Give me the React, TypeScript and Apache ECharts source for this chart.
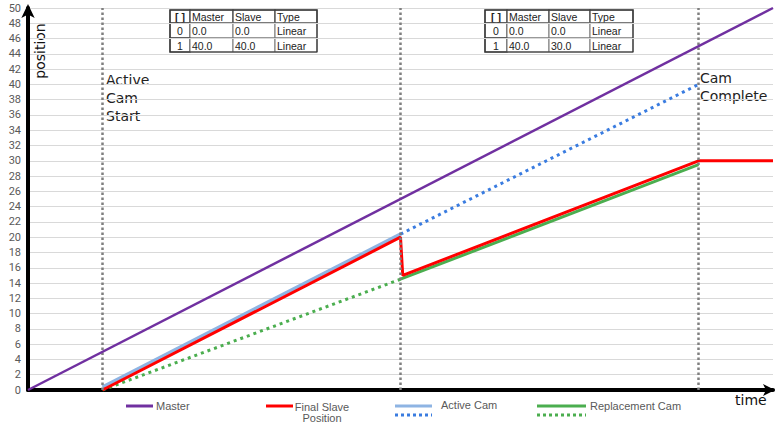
import React, { useEffect, useRef } from "react";
import * as echarts from "echarts";

const yTicks = [0, 2, 4, 6, 8, 10, 12, 14, 16, 18, 20, 22, 24, 26, 28, 30, 32, 34, 36, 38, 40, 42, 44, 46, 48, 50];
const masterData = [[0, 0], [50, 50]];
const activeSolid = [[5, 0.4], [25, 20.4]];
const activeDotted = [[25, 20.4], [45, 40]];
const replDotted = [[5, 0], [25, 14.5]];
const replSolid = [[25, 14.5], [45, 29.5]];
const finalSlave = [[5, 0], [25, 20], [25.15, 15], [45, 30], [50, 30]];
const phaseMarks = [5, 25, 45];

const tableHeader = ["[ ]", "Master", "Slave", "Type"];
const table1Rows = [["0", "0.0", "0.0", "Linear"], ["1", "40.0", "40.0", "Linear"]];
const table2Rows = [["0", "0.0", "0.0", "Linear"], ["1", "40.0", "30.0", "Linear"]];

const C_MASTER = "#7030a0";
const C_RED = "#ff0000";
const C_BLUE_L = "#8eb4e3";
const C_BLUE_D = "#3a7ce0";
const C_GREEN = "#4bae4f";

function makeTable(x0: number, y0: number, colW: number[], rowH: number[], rows: string[][]) {
  const children: any[] = [];
  const all = [tableHeader, ...rows];
  let y = y0;
  all.forEach((row, ri) => {
    let x = x0;
    row.forEach((cell, ci) => {
      const w = colW[ci];
      const h = rowH[ri];
      const special = ri === 0 || ci === 0;
      children.push({
        type: "rect",
        shape: { x, y, width: w, height: h },
        style: { fill: "#ffffff", stroke: special ? "#555" : "#777", lineWidth: special ? 1.4 : 1 },
      });
      const centered = ci === 0;
      children.push({
        type: "text",
        style: {
          text: cell,
          x: centered ? x + w / 2 : x + 2,
          y: y + h / 2 + 0.5,
          align: centered ? "center" : "left",
          verticalAlign: "middle",
          fontFamily: "Liberation Sans, Arial",
          fontSize: 10.5,
          fill: "#222",
          fontWeight: ri === 0 && ci === 0 ? "bold" : "normal",
        },
      });
      x += w;
    });
    y += rowH[ri];
  });
  const totalW = colW.reduce((a, b) => a + b, 0);
  const totalH = rowH.reduce((a, b) => a + b, 0);
  children.push({
    type: "rect",
    shape: { x: x0, y: y0, width: totalW, height: totalH },
    style: { fill: "none", stroke: "#333", lineWidth: 1.2 },
  });
  return { type: "group", children };
}

function legendLine(x1: number, x2: number, y: number, color: string, dotted?: boolean) {
  return {
    type: "line",
    shape: { x1, y1: y, x2, y2: y },
    style: { stroke: color, lineWidth: 3, lineDash: dotted ? [3, 3] : undefined },
  };
}

function legendText(text: string, x: number, y: number, align = "left") {
  return {
    type: "text",
    style: {
      text,
      x,
      y,
      align,
      verticalAlign: "middle",
      fontFamily: "Liberation Sans, Arial",
      fontSize: 11,
      fill: "#595959",
    },
  };
}

export default function App() {
  const ref = useRef<HTMLDivElement>(null);
  useEffect(() => {
    document.body.style.margin = "0";
    const chart = echarts.init(ref.current!, undefined, { renderer: "svg" });
    const lineSeries = (name: string, data: number[][], color: string, width: number, type: any = "solid", z = 2) => ({
      name,
      type: "line",
      data,
      symbol: "none",
      z,
      lineStyle: { color, width, type },
      silent: true,
    });
    const bigText = (text: string, x: number, y: number) => ({
      type: "text",
      style: {
        text,
        x,
        y,
        verticalAlign: "middle",
        fontFamily: "DejaVu Sans",
        fontSize: 14,
        lineHeight: 18,
        fill: "#222",
      },
    });
    chart.setOption({
      animation: false,
      backgroundColor: "#ffffff",
      grid: { left: 28, right: 3, top: 8, bottom: 33 },
      xAxis: {
        type: "value",
        min: 0,
        max: 50,
        axisLabel: { show: false },
        axisTick: { show: false },
        splitLine: { show: false },
        axisLine: { lineStyle: { color: "#000", width: 4 }, symbol: ["none", "arrow"], symbolSize: [9, 12], symbolOffset: [0, 2] },
      },
      yAxis: {
        type: "value",
        min: 0,
        max: 50,
        interval: 2,
        axisLabel: { color: "#595959", fontSize: 11, fontFamily: "Roboto", margin: 7 },
        axisTick: { show: false },
        splitLine: { lineStyle: { color: "#d9d9d9", width: 1 } },
        axisLine: { show: true, lineStyle: { color: "#000", width: 4 }, symbol: ["none", "arrow"], symbolSize: [10, 14], symbolOffset: [0, 4] },
      },
      series: [
        {
          ...lineSeries("Phases", [], "#808080", 2),
          markLine: {
            silent: true,
            symbol: "none",
            label: { show: false },
            lineStyle: { color: "#7f7f7f", type: [2.5, 2.5], width: 2.5 },
            data: phaseMarks.map((v) => ({ xAxis: v })),
          },
        },
        lineSeries("Active Cam", activeSolid, C_BLUE_L, 3.5, "solid", 3),
        lineSeries("Active Cam dotted", activeDotted, C_BLUE_D, 3, [3, 4], 3),
        lineSeries("Replacement Cam dotted", replDotted, C_GREEN, 3, [3, 4], 3),
        lineSeries("Replacement Cam", replSolid, C_GREEN, 3, "solid", 3),
        lineSeries("Final Slave Position", finalSlave, C_RED, 3, "solid", 4),
        lineSeries("Master", masterData, C_MASTER, 2.5, "solid", 5),
      ],
      graphic: [
        makeTable(170, 10, [20, 43, 42, 42], [13, 15, 14], table1Rows),
        makeTable(485, 10, [22, 42, 41, 43], [13, 15, 14], table2Rows),
        bigText("Active\nCam\nStart", 106, 98),
        bigText("Cam\nComplete", 700, 87),
        {
          type: "text",
          x: 40,
          y: 51,
          rotation: Math.PI / 2,
          style: { text: "position", align: "center", verticalAlign: "middle", fontFamily: "DejaVu Sans", fontSize: 14, fill: "#111" },
        },
        {
          type: "text",
          style: { text: "time", x: 735, y: 400, verticalAlign: "middle", fontFamily: "DejaVu Sans", fontSize: 14, fill: "#111" },
        },
        legendLine(126, 153, 406, C_MASTER),
        legendText("Master", 156, 406),
        legendLine(266, 293, 406, C_RED),
        legendText("Final Slave\nPosition", 322, 412, "center"),
        legendLine(395, 432, 406, C_BLUE_L),
        legendLine(395, 432, 415, C_BLUE_D, true),
        legendText("Active Cam", 441, 405),
        legendLine(537, 586, 406, C_GREEN),
        legendLine(537, 586, 415, C_GREEN, true),
        legendText("Replacement Cam", 590, 406),
      ],
    });
    return () => chart.dispose();
  }, []);
  return <div ref={ref} style={{ width: 776, height: 423 }} />;
}
